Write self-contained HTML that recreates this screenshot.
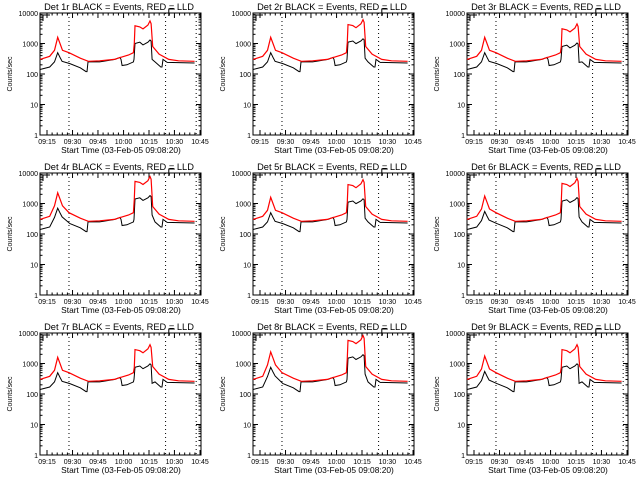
<!DOCTYPE html>
<html><head><meta charset="utf-8"><style>
body{margin:0;background:#fff;}
svg{display:block;font-family:"Liberation Sans",sans-serif;}
</style></head><body>
<svg id="c" width="640" height="480"></svg>
<script>
const detNames=["1r","2r","3r","4r","5r","6r","7r","8r","9r"];
const flare1Scale=[1.0,1.0,1.0,1.4,1.0,1.1,1.0,1.5,1.1];
const flare2Scale=[1.0,1.1,0.8,1.4,1.1,1.2,0.75,1.5,0.75];
const blackT=[0,6,9,11,12.4,13.7,18.6,25,28.6,29.2,29.8,37,46.6,49.7,50.3,51,54,58,58.4,59,62,64,67,68.3,69,69.6,71.4,75,75.8,76.4,79,96];
const blackV=[140,170,250,500,350,260,220,160,120,120,250,250,300,350,300,190,200,250,300,1000,1100,900,1100,1300,1200,300,250,170,170,300,240,230];
const redT=[0,6,9,11,12.4,14,18,25,30,37,46,50,55,58,58.6,59,62,64,67,68.3,69,70,74,80,86,96];
const redV=[300,380,600,1600,1000,600,500,330,260,270,300,350,420,500,1000,3800,3500,3000,4000,5500,4500,800,450,300,270,260];
const tickLabels=["09:15","09:30","09:45","10:00","10:15","10:30","10:45"];
const tickT=[4.35,20.2,36,51.9,67.7,83.5,99.4];
const dottedT=[18,78,97];
const yTicks=[1,10,100,1000,10000];
const yLabels=["1","10","100","1000","10000"];

const NS="http://www.w3.org/2000/svg";
const svg=document.getElementById('c');
function mk(tag,attrs,parent){const e=document.createElementNS(NS,tag);for(const k in attrs)e.setAttribute(k,attrs[k]);parent.appendChild(e);return e;}
function sc(t,k){let s=1;if(t>=8&&t<=16)s=flare1Scale[k];if(t>=58.5&&t<=69.8)s=flare2Scale[k];return s;}
for(let k=0;k<9;k++){
  const ox=Math.round((k%3)*213.33), oy=Math.floor(k/3)*160;
  const L=ox+40,R=ox+201,T=oy+13,B=oy+135;
  const xs=t=>L+t*1.61;
  const ys=v=>B-Math.log10(v)/4*(B-T);
  const g=mk('g',{},svg);
  
  
  const title=mk('text',{x:ox+119,y:oy+10,'font-size':9.3,'text-anchor':'middle'},g);
  title.textContent='Det '+detNames[k]+' BLACK = Events, RED = LLD';
  
  
  const fr=mk('rect',{x:L,y:T,width:R-L,height:B-T,fill:'none',stroke:'#000','stroke-width':1},g);
  
  
  for(let i=0;i<yTicks.length;i++){
    const y=ys(yTicks[i]);
    mk('line',{x1:L,x2:L+5,y1:y,y2:y,stroke:'#000'},g);
    mk('line',{x1:R-5,x2:R,y1:y,y2:y,stroke:'#000'},g);
    const tl=mk('text',{x:L-2,y:y+3,'font-size':7,'text-anchor':'end'},g);
    tl.textContent=yLabels[i];
    
    
    if(i<yTicks.length-1){for(let m=2;m<10;m++){const ym=ys(yTicks[i]*m);
      mk('line',{x1:L,x2:L+2.5,y1:ym,y2:ym,stroke:'#000'},g);
      mk('line',{x1:R-2.5,x2:R,y1:ym,y2:ym,stroke:'#000'},g);}}
  }
  for(let i=0;i<tickT.length;i++){
    const x=xs(tickT[i]);
    mk('line',{x1:x,x2:x,y1:B,y2:B-5,stroke:'#000'},g);
    mk('line',{x1:x,x2:x,y1:T,y2:T+5,stroke:'#000'},g);
    if(i<tickT.length-1){for(let m=1;m<5;m++){const xm=xs(tickT[i]+(tickT[i+1]-tickT[i])*m/5);
      mk('line',{x1:xm,x2:xm,y1:B,y2:B-2.5,stroke:'#000'},g);
      mk('line',{x1:xm,x2:xm,y1:T,y2:T+2.5,stroke:'#000'},g);}}
    const tl=mk('text',{x:x,y:B+9,'font-size':7,'text-anchor':'middle'},g);
    tl.textContent=tickLabels[i];
    
    
  }
  for(const d of dottedT){const x=xs(d);
    const dl=mk('line',{x1:x,x2:x,y1:T,y2:B,stroke:'#000','stroke-dasharray':'1,3'},g);
    
    }
  mk('path',{d:`M${L+3},${T+8}V${T+2}H${L+10}`,fill:'none',stroke:'#000'},g);
  mk('path',{d:`M${xs(80)},${T+3}V${T-4}H${xs(80)+6}`,fill:'none',stroke:'#000'},g);
  const yl=mk('text',{x:0,y:0,'font-size':7,'text-anchor':'middle',transform:`translate(${ox+12},${(T+B)/2}) rotate(-90)`},g);
  yl.textContent='Counts/sec';
  
  
  const xl=mk('text',{x:ox+121,y:oy+153,'font-size':8.4,'text-anchor':'middle'},g);
  xl.textContent='Start Time (03-Feb-05 09:08:20)';
  
  
  const pb=blackT.map((t,i)=>xs(t).toFixed(1)+','+ys(blackV[i]*sc(t,k)).toFixed(1)).join(' ');
  const pr=redT.map((t,i)=>xs(t).toFixed(1)+','+ys(redV[i]*sc(t,k)).toFixed(1)).join(' ');
  const lb=mk('polyline',{points:pb,fill:'none',stroke:'#000','stroke-width':1},g);
  
  
  const lr=mk('polyline',{points:pr,fill:'none',stroke:'#f00','stroke-width':1.2},g);
  
  
}
</script>
</body></html>
